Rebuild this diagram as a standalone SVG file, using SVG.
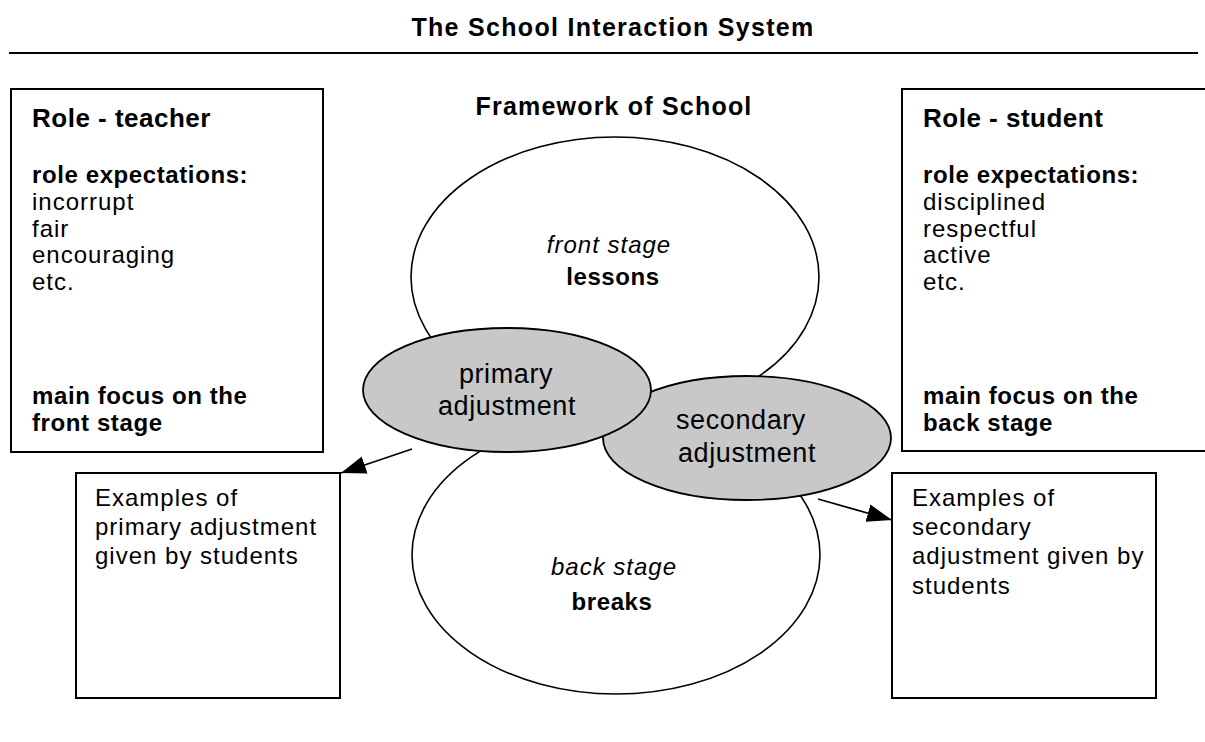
<svg xmlns="http://www.w3.org/2000/svg" width="1205" height="742" viewBox="0 0 1205 742">
<style>
text{font-family:"Liberation Sans",Arial,sans-serif;fill:#000}
.t{font-size:25px;font-weight:700;letter-spacing:1.3px}
.h{font-size:26px;font-weight:700;letter-spacing:0.5px}
.f{font-size:25px;font-weight:700;letter-spacing:1.2px}
.b{font-size:24px;font-weight:700;letter-spacing:0.6px}
.r{font-size:24px;letter-spacing:1px}
.e{font-size:27px;letter-spacing:0.6px}
.i{font-size:24px;font-style:italic;letter-spacing:1px}
.m{text-anchor:middle}
.box{fill:#fff;stroke:#000;stroke-width:2}
.stage{fill:#fff;stroke:#000;stroke-width:1.6}
.adj{fill:#c8c8c8;stroke:#000;stroke-width:1.8}
.conn{stroke:#000;stroke-width:1.8;fill:none}
</style>
<defs>
<marker id="ah" markerUnits="userSpaceOnUse" viewBox="0 0 26 20" markerWidth="26" markerHeight="20" refX="25" refY="10" orient="auto">
<path d="M0,1 L25,10 L0,19 z" fill="#000"/>
</marker>
</defs>
<rect width="1205" height="742" fill="#fff"/>
<g id="title">
<text class="t m" x="613" y="36">The School Interaction System</text>
<line x1="9" y1="53" x2="1198" y2="53" stroke="#000" stroke-width="2"/>
</g>
<g id="teacher">
<rect class="box" x="11" y="89" width="312" height="363"/>
<text class="h" x="32" y="127">Role - teacher</text>
<text class="b" x="32" y="183">role expectations:</text>
<text class="r" x="32" y="210">incorrupt</text>
<text class="r" x="32" y="237">fair</text>
<text class="r" x="32" y="263">encouraging</text>
<text class="r" x="32" y="290">etc.</text>
<text class="b" x="32" y="404">main focus on the</text>
<text class="b" x="32" y="431">front stage</text>
</g>
<g id="student">
<rect class="box" x="902" y="89" width="320" height="362"/>
<text class="h" x="923" y="127">Role - student</text>
<text class="b" x="923" y="183">role expectations:</text>
<text class="r" x="923" y="210">disciplined</text>
<text class="r" x="923" y="237">respectful</text>
<text class="r" x="923" y="263">active</text>
<text class="r" x="923" y="290">etc.</text>
<text class="b" x="923" y="404">main focus on the</text>
<text class="b" x="923" y="431">back stage</text>
</g>
<g id="framework">
<text class="f m" x="614" y="115">Framework of School</text>
</g>
<g id="front-stage">
<ellipse class="stage" cx="615" cy="277" rx="204" ry="140"/>
<text class="i m" x="609" y="253">front stage</text>
<text class="b m" x="613" y="285">lessons</text>
</g>
<g id="back-stage">
<ellipse class="stage" cx="616" cy="555" rx="204" ry="139"/>
<text class="i m" x="614" y="575">back stage</text>
<text class="b m" x="612" y="610">breaks</text>
</g>
<g id="secondary-adjustment">
<ellipse class="adj" cx="747" cy="438" rx="144" ry="62"/>
<text class="e m" x="741" y="429">secondary</text>
<text class="e m" x="747" y="462">adjustment</text>
</g>
<g id="primary-adjustment">
<ellipse class="adj" cx="507" cy="390" rx="144" ry="62"/>
<text class="e m" x="506" y="383">primary</text>
<text class="e m" x="507" y="415">adjustment</text>
</g>
<g id="primary-examples">
<rect class="box" x="76" y="473" width="264" height="225"/>
<text class="r" x="95" y="506">Examples of</text>
<text class="r" x="95" y="535">primary adjustment</text>
<text class="r" x="95" y="564">given by students</text>
</g>
<g id="secondary-examples">
<rect class="box" x="892" y="473" width="264" height="225"/>
<text class="r" x="912" y="506">Examples of</text>
<text class="r" x="912" y="535">secondary</text>
<text class="r" x="912" y="564">adjustment given by</text>
<text class="r" x="912" y="594">students</text>
</g>
<g id="connectors">
<line class="conn" x1="412" y1="449" x2="341" y2="473" marker-end="url(#ah)"/>
<line class="conn" x1="818" y1="499" x2="892" y2="520" marker-end="url(#ah)"/>
</g>
</svg>
